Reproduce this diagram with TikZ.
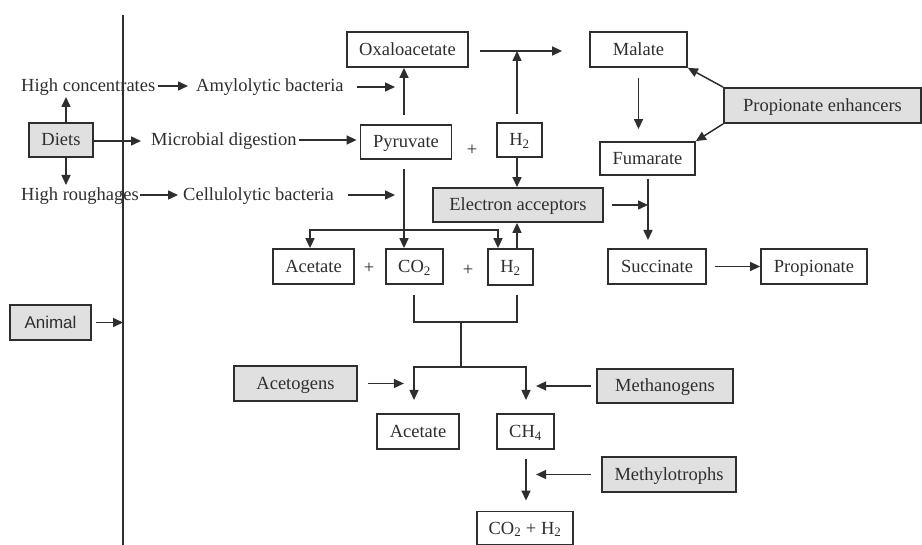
\documentclass[tikz,border=0pt]{standalone}
\usepackage{fontspec}
\setmainfont{Liberation Serif}
\newfontfamily\animalfont{Liberation Sans}
\usetikzlibrary{arrows.meta}
\definecolor{ink}{HTML}{2E2E2E}
\definecolor{boxgray}{HTML}{E0E0E0}
\begin{document}
\begin{tikzpicture}[x=1pt,y=-1pt,
  every node/.style={font=\fontsize{18.5}{20}\selectfont, text=ink, inner sep=0pt, text height=12pt, text depth=0pt},
  bx/.style={draw=ink, line width=1.8pt, align=center},
  gbx/.style={bx, fill=boxgray},
  lbl/.style={anchor=west},
  arr/.style={draw=ink, line width=1.5pt, -{Triangle[length=10pt,width=9pt]}},
  darr/.style={draw=ink, line width=1.5pt, {Triangle[length=10pt,width=9pt]}-{Triangle[length=10pt,width=9pt]}},
  ln/.style={draw=ink, line width=1.5pt}]
\useasboundingbox (0,0) rectangle (922,545);
\fill[white] (0,0) rectangle (922,545);

% nodes
\node[gbx, minimum width=64pt, minimum height=34pt] (diets) at (61,140) {Diets};
\node[gbx, minimum width=81pt, minimum height=35pt, font=\animalfont\fontsize{17}{20}\selectfont] (animal) at (50.5,322.5) {Animal};
\node[lbl] (hc) at (21,86) {High concentrates};
\node[lbl] (amy) at (196,86) {Amylolytic bacteria};
\node[lbl] (micro) at (151,140) {Microbial digestion};
\node[lbl] (hr) at (21,195) {High roughages};
\node[lbl] (cell) at (183,195) {Cellulolytic bacteria};
\node[bx, minimum width=121pt, minimum height=35pt] (oxa) at (407.5,49.5) {Oxaloacetate};
\node[bx, minimum width=91pt, minimum height=34pt] (pyr) at (406,142) {Pyruvate};
\node[bx, minimum width=45pt, minimum height=34pt] (h2a) at (519.5,140) {H\textsubscript{2}};
\node (plus1) at (472,150) {+};
\node[gbx, minimum width=170pt, minimum height=34pt] (ea) at (518,205) {Electron acceptors};
\node[bx, minimum width=97pt, minimum height=35pt] (malate) at (638.5,49.5) {Malate};
\node[bx, minimum width=95pt, minimum height=33pt] (fum) at (647.5,158.5) {Fumarate};
\node[gbx, minimum width=197pt, minimum height=35pt] (pe) at (822.5,105.5) {Propionate enhancers};
\node[bx, minimum width=81pt, minimum height=35pt] (acet1) at (313.5,266.5) {Acetate};
\node (plus2) at (369,268) {+};
\node[bx, minimum width=57pt, minimum height=35pt] (co2) at (414.5,266.5) {CO\textsubscript{2}};
\node (plus3) at (468,270) {+};
\node[bx, minimum width=45pt, minimum height=36pt] (h2b) at (510.5,267) {H\textsubscript{2}};
\node[bx, minimum width=98pt, minimum height=35pt] (succ) at (657,266.5) {Succinate};
\node[bx, minimum width=106pt, minimum height=35pt] (prop) at (814,266.5) {Propionate};
\node[gbx, minimum width=123pt, minimum height=35pt] (acg) at (295.5,383.5) {Acetogens};
\node[gbx, minimum width=136pt, minimum height=34pt] (meth) at (665,386) {Methanogens};
\node[bx, minimum width=82pt, minimum height=35pt] (acet2) at (418,431.5) {Acetate};
\node[bx, minimum width=57pt, minimum height=35pt] (ch4) at (525.5,431.5) {CH\textsubscript{4}};
\node[gbx, minimum width=134pt, minimum height=35pt] (mtr) at (669,474.5) {Methylotrophs};
\node[bx, minimum width=96pt, minimum height=33pt] (co2h2) at (525,528) {CO\textsubscript{2} + H\textsubscript{2}};

% coordinates
\coordinate (vt) at (123,15);
\coordinate (vb) at (123,545);
\coordinate (dup) at (66,97);
\coordinate (ddn) at (66,185);
\coordinate (dr) at (141,141);
\coordinate (a1) at (357,87);
\coordinate (a2) at (395,87);
\coordinate (c1) at (348,195);
\coordinate (c2) at (395,195);
\coordinate (p1) at (404,115);
\coordinate (bl) at (310,230);
\coordinate (br) at (498,230);
\coordinate (c517) at (517,51);
\coordinate (c648) at (648,240);
\coordinate (t1) at (414,295);
\coordinate (t2) at (414,322);
\coordinate (t3) at (517,322);
\coordinate (t4) at (517,295);
\coordinate (s1) at (461,322);
\coordinate (s2) at (461,367);
\coordinate (u1) at (414,367);
\coordinate (u2) at (526,367);
\coordinate (d1) at (414,400);
\coordinate (d2) at (526,400);

% divider
\draw[ln, line width=1.8pt] (vt) -- (vb);

% left side
\draw[arr] (diets.north -| dup) -- (dup);
\draw[arr] (diets.south -| ddn) -- (ddn);
\draw[arr] (diets.east |- dr) -- (dr);
\draw[arr] ([xshift=3pt]hc.east) -- ([xshift=-8pt]amy.west);
\draw[arr] (a1) -- (a2);
\draw[arr] ([xshift=2pt]micro.east) -- ([xshift=-3pt]pyr.west |- micro.east);
\draw[arr] ([xshift=1pt]hr.east) -- ([xshift=-5pt]cell.west);
\draw[arr] (c1) -- (c2);
\draw[arr] (animal.east) ++(4,0) -- (vb |- animal.east);

% pyruvate
\draw[arr] (p1) -- (p1 |- oxa.south);
\draw[arr] ([yshift=-9pt]pyr.south -| p1) -- (co2.north -| p1);
\draw[darr] (acet1.north -| bl) -- (bl) -- (br) -- (h2b.north -| br);

% hydrogen
\draw[arr] (h2b.north -| c517) -- (ea.south -| c517);
\draw[arr] (h2a.south -| c517) -- (ea.north -| c517);
\draw[arr] ([yshift=8pt]h2a.north -| c517) -- (c517);
\draw[arr] ([xshift=11pt]oxa.east |- c517) -- ([xshift=-27pt]malate.west |- c517);

% propionate pathway
\draw[arr] ([yshift=-10pt]malate.south) -- ([yshift=12pt]fum.north -| malate.south);
\draw[arr] ([yshift=-3pt]fum.south -| c648) -- (c648);
\draw[arr] ([xshift=8pt]ea.east) -- (c648 |- ea.east);
\draw[arr] ([xshift=8pt]succ.east) -- (prop.west);
\draw[arr] (pe.north west) -- (malate.south east);
\draw[arr] (pe.south west) -- (fum.north east);

% bottom
\draw[ln] (t1) -- (t2) -- (t3) -- (t4);
\draw[ln] (s1) -- (s2);
\draw[darr] (d1) -- (u1) -- (u2) -- (d2);
\draw[arr] ([xshift=10pt]acg.east) -- ++(36,0);
\draw[arr] ([xshift=-5pt]meth.west) -- ++(-55,0);
\draw[arr] ([yshift=-9pt]ch4.south -| d2) -- ([yshift=10pt]co2h2.north -| d2);
\draw[arr] ([xshift=-10pt]mtr.west) -- ++(-55,0);
\end{tikzpicture}
\end{document}
